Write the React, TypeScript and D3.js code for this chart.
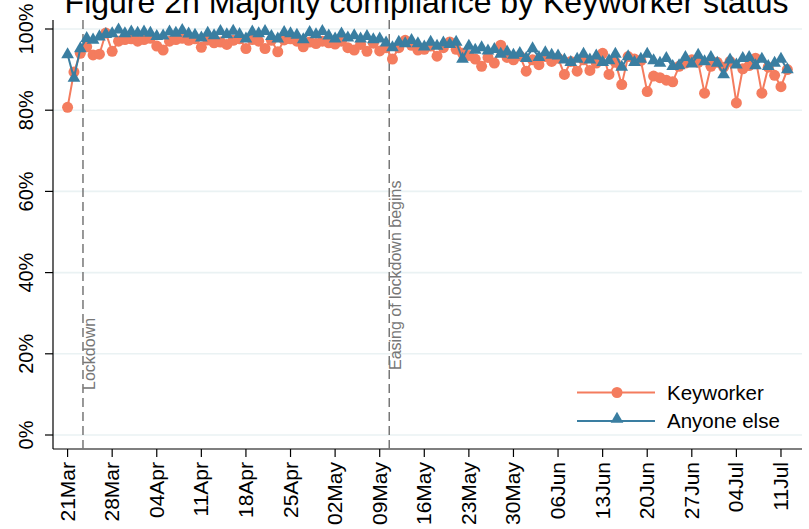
import * as React from 'react';
import * as d3 from 'd3';

// daily values, 21 Mar 2020 onwards
const keyworker = [
  80.7, 89.4, 94.0, 95.6, 93.6, 93.8, 99.0, 94.5, 97.0, 97.4,
  97.6, 97.0, 97.4, 97.7, 95.8, 94.8, 97.0, 97.4, 97.7, 97.2,
  97.6, 95.5, 97.3, 96.6, 96.8, 96.2, 97.2, 97.6, 95.2, 97.4,
  97.0, 95.2, 97.2, 94.4, 97.3, 97.6, 97.0, 95.6, 96.8, 96.4,
  97.0, 96.6, 96.3, 97.0, 95.4, 94.8, 96.2, 94.5, 96.5, 94.6,
  95.4, 92.6, 95.4, 97.2, 96.0, 94.8, 95.0, 95.8, 93.3, 95.4,
  96.8, 95.0, 94.0, 93.5, 92.6, 90.8, 93.0, 91.6, 96.0, 93.0,
  92.4, 93.4, 89.6, 92.4, 91.2, 93.2, 92.0, 92.8, 88.8, 92.0,
  89.6, 92.4, 89.8, 91.6, 94.0, 88.8, 91.8, 86.3, 93.2, 92.6,
  92.2, 84.6, 88.4, 88.0, 87.4, 87.0, 90.8, 91.6, 92.4, 91.8,
  84.2, 90.8, 91.8, 90.6, 92.0, 81.8, 90.2, 91.0, 92.8, 84.2,
  90.6, 88.6, 85.8, 90.0,
];
const anyoneElse = [
  93.7, 87.9, 95.2, 97.7, 97.3, 98.1, 98.7, 98.9, 99.8, 98.9,
  99.3, 99.0, 99.3, 99.0, 98.2, 98.3, 99.3, 99.0, 99.7, 98.8,
  98.5, 97.8, 99.0, 98.4, 99.4, 98.6, 99.5, 98.7, 97.6, 99.3,
  98.9, 99.4, 98.2, 97.6, 99.2, 98.9, 98.5, 97.4, 99.2, 98.6,
  99.4, 98.3, 97.6, 98.8, 97.8, 98.4, 97.6, 98.2, 97.4, 97.6,
  96.6, 95.4, 96.8, 96.4, 97.2, 96.4, 95.6, 96.8, 95.8, 96.6,
  96.2, 96.8, 92.6, 95.8, 94.8, 95.4, 94.6, 95.0, 93.8, 94.4,
  93.6, 94.0, 92.8, 95.2, 93.0, 94.2, 93.6, 93.4, 92.4, 91.8,
  92.6, 93.8, 92.4, 93.4, 91.8, 92.2, 93.8, 90.6, 93.2, 91.8,
  92.6, 93.8, 92.2, 91.6, 92.8, 90.8, 91.0, 93.0, 91.4, 93.6,
  92.0, 93.0, 91.6, 88.8, 92.4, 91.2, 92.8, 93.0, 91.0, 92.6,
  90.8, 91.6, 92.6, 90.0,
];
const yTicks = [0, 20, 40, 60, 80, 100];
const seriesNames = ['Keyworker', 'Anyone else'];
const events = [
  { date: new Date(Date.UTC(2020, 2, 23, 10)), label: 'Lockdown', at: 11.1 },
  { date: new Date(Date.UTC(2020, 4, 10, 12)), label: 'Easing of lockdown begins', at: 16.0 },
];

const firstDay = Date.UTC(2020, 2, 21);
const DAY = 864e5;
const dates = keyworker.map((_, i) => new Date(firstDay + i * DAY));
const xTicks = d3.range(0, 17).map(w => new Date(firstDay + w * 7 * DAY));

const W = 809;
const H = 529;
const red = '#f47c5e';
const blue = '#3a7ea1';
const font = 'Arial, "Liberation Sans", Helvetica, sans-serif';

const App = () => {
  const x = d3
    .scaleUtc()
    .domain([new Date(firstDay - 2.29 * DAY), new Date(firstDay + 115.3 * DAY)])
    .range([53, 802]);
  const y = d3.scaleLinear().domain([0, 100]).range([435, 29]);
  const axisY = 449;
  const plotTop = 20;

  const line = d3
    .line<number>()
    .x((_, i) => x(dates[i]))
    .y(d => y(d));
  const tri = d3.symbol(d3.symbolTriangle, 70)() as string;
  const fmt = d3.utcFormat('%d%b');

  return (
    <svg
      width={W}
      height={H}
      style={{ position: 'absolute', left: 0, top: 0, background: '#fff' }}
      fontFamily={font}
    >
      <text x={W / 2 + 22} y={13} fontSize={32} textAnchor="middle" fill="#000">
        Figure 2h Majority compliance by Keyworker status
      </text>

      {/* grid */}
      {yTicks.map(t => (
        <line key={'g' + t} x1={53} x2={802} y1={y(t)} y2={y(t)} stroke="#eaf2f3" strokeWidth={1.6} />
      ))}

      {/* y axis */}
      <line x1={53} x2={53} y1={plotTop} y2={axisY} stroke="#000" strokeWidth={1.2} />
      {yTicks.map(t => (
        <g key={'y' + t}>
          <line x1={45} x2={53} y1={y(t)} y2={y(t)} stroke="#000" strokeWidth={1.2} />
          <text
            transform={`translate(${33},${y(t)}) rotate(-90)`}
            textAnchor="middle"
            fontSize={20}
            fill="#000"
          >
            {t}%
          </text>
        </g>
      ))}

      {/* x axis */}
      <line x1={53} x2={802} y1={axisY} y2={axisY} stroke="#000" strokeWidth={1.2} />
      {xTicks.map(t => (
        <g key={'x' + t.getTime()}>
          <line x1={x(t)} x2={x(t)} y1={axisY} y2={axisY + 8} stroke="#000" strokeWidth={1.2} />
          <text
            transform={`translate(${x(t) + 7},${axisY + 13}) rotate(-90)`}
            textAnchor="end"
            fontSize={21}
            fill="#000"
          >
            {fmt(t)}
          </text>
        </g>
      ))}

      {/* event lines */}
      {events.map(e => (
        <g key={e.label}>
          <line
            x1={x(e.date)}
            x2={x(e.date)}
            y1={plotTop}
            y2={axisY}
            stroke="#777"
            strokeWidth={1.5}
            strokeDasharray="9,5"
          />
          <text
            transform={`translate(${x(e.date) + 12},${y(e.at)}) rotate(-90)`}
            fontSize={16}
            fill="#777"
          >
            {e.label}
          </text>
        </g>
      ))}

      {/* series */}
      <path d={line(keyworker) as string} fill="none" stroke={red} strokeWidth={2} />
      {keyworker.map((v, i) => (
        <circle key={'k' + i} cx={x(dates[i])} cy={y(v)} r={5.5} fill={red} />
      ))}
      <path d={line(anyoneElse) as string} fill="none" stroke={blue} strokeWidth={2} />
      {anyoneElse.map((v, i) => (
        <path key={'a' + i} d={tri} transform={`translate(${x(dates[i])},${y(v)})`} fill={blue} />
      ))}

      {/* legend */}
      <g>
        <line x1={577} x2={655} y1={392.5} y2={392.5} stroke={red} strokeWidth={2} />
        <circle cx={617} cy={392.5} r={5.5} fill={red} />
        <text x={667} y={399.5} fontSize={20.5} fill="#000">
          {seriesNames[0]}
        </text>
        <line x1={577} x2={655} y1={421} y2={421} stroke={blue} strokeWidth={2} />
        <path d={tri} transform="translate(617,419)" fill={blue} />
        <text x={667} y={428} fontSize={20.5} fill="#000">
          {seriesNames[1]}
        </text>
      </g>
    </svg>
  );
};

export default App;
